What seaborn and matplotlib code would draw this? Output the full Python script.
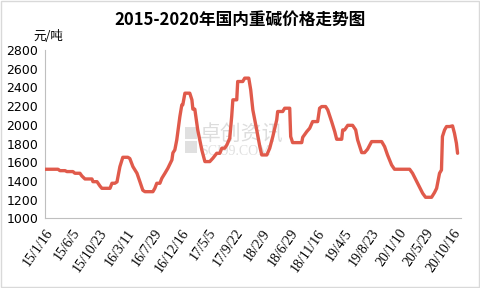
import matplotlib
matplotlib.use("Agg")
import matplotlib.pyplot as plt
import matplotlib.patches as mpatches
import seaborn as sns
import pandas as pd

dates = [
    "2015-01-16", "2015-03-24", "2015-04-03", "2015-04-29", "2015-05-09", "2015-06-09",
    "2015-06-19", "2015-07-15", "2015-07-25", "2015-08-10", "2015-09-15", "2015-09-20",
    "2015-10-11", "2015-10-26", "2015-11-05", "2015-12-17", "2015-12-27", "2016-01-11",
    "2016-01-22", "2016-02-06", "2016-02-21", "2016-03-18", "2016-03-28", "2016-04-13",
    "2016-05-04", "2016-05-19", "2016-06-03", "2016-06-14", "2016-07-25", "2016-08-04",
    "2016-08-14", "2016-08-30", "2016-09-09", "2016-09-25", "2016-10-10", "2016-10-31",
    "2016-11-05", "2016-11-15", "2016-11-25", "2016-12-11", "2016-12-21", "2016-12-26",
    "2017-01-06", "2017-01-31", "2017-02-11", "2017-02-16", "2017-02-26", "2017-03-13",
    "2017-04-03", "2017-04-19", "2017-05-14", "2017-05-30", "2017-06-19", "2017-07-05",
    "2017-07-15", "2017-07-30", "2017-08-10", "2017-08-25", "2017-09-04", "2017-09-10",
    "2017-09-30", "2017-10-05", "2017-10-31", "2017-11-10", "2017-12-01", "2017-12-11",
    "2017-12-22", "2018-01-11", "2018-01-27", "2018-02-06", "2018-03-04", "2018-03-19",
    "2018-04-04", "2018-04-24", "2018-04-29", "2018-05-25", "2018-06-04", "2018-06-30",
    "2018-07-05", "2018-07-15", "2018-08-31", "2018-09-05", "2018-09-26", "2018-10-11",
    "2018-10-26", "2018-11-21", "2018-12-01", "2018-12-12", "2019-01-01", "2019-01-12",
    "2019-02-01", "2019-02-17", "2019-02-27", "2019-03-25", "2019-03-30", "2019-04-09",
    "2019-04-25", "2019-05-20", "2019-06-05", "2019-06-15", "2019-07-06", "2019-07-21",
    "2019-08-05", "2019-08-26", "2019-10-17", "2019-11-01", "2019-11-16", "2019-12-07",
    "2019-12-22", "2020-03-09", "2020-03-24", "2020-04-19", "2020-05-15", "2020-05-30",
    "2020-06-30", "2020-07-15", "2020-07-26", "2020-08-10", "2020-08-20", "2020-08-25",
    "2020-09-05", "2020-09-15", "2020-10-01", "2020-10-16", "2020-10-26", "2020-11-05",
    "2020-11-11",
]
prices = [
    1525, 1525, 1510, 1510, 1500, 1500,
    1482, 1482, 1453, 1421, 1421, 1392,
    1392, 1346, 1321, 1321, 1375, 1375,
    1390, 1553, 1653, 1653, 1640, 1553,
    1482, 1392, 1300, 1285, 1285, 1321,
    1375, 1375, 1428, 1482, 1535, 1625,
    1700, 1732, 1839, 2089, 2214, 2214,
    2339, 2339, 2268, 2168, 2168, 1946,
    1732, 1607, 1607, 1643, 1696, 1696,
    1750, 1750, 1785, 1857, 2089, 2268,
    2268, 2464, 2464, 2500, 2500, 2375,
    2160, 1946, 1767, 1678, 1678, 1750,
    1875, 2053, 2143, 2143, 2178, 2178,
    1875, 1810, 1810, 1867, 1928, 1964,
    2035, 2035, 2178, 2196, 2196, 2160,
    2035, 1928, 1846, 1846, 1946, 1946,
    1995, 1995, 1946, 1839, 1703, 1703,
    1739, 1821, 1821, 1767, 1678, 1571,
    1525, 1525, 1482, 1375, 1268, 1225,
    1225, 1275, 1321, 1482, 1517, 1875,
    1946, 1982, 1982, 1989, 1910, 1803,
    1696,
]
tick_labels = ["15/1/16", "15/6/5", "15/10/23", "16/3/11", "16/7/29", "16/12/16",
               "17/5/5", "17/9/22", "18/2/9", "18/6/29", "18/11/16", "19/4/5",
               "19/8/23", "20/1/10", "20/5/29", "20/10/16"]
y_ticks = [1000, 1200, 1400, 1600, 1800, 2000, 2200, 2400, 2600, 2800]
title = "2015-2020年国内重碱价格走势图"
unit = "元/吨"
x_range = ["2015-01-16", "2020-11-27"]

df = pd.DataFrame({"date": pd.to_datetime(dates), "price": prices})
tick_pos = pd.to_datetime(tick_labels, format="%y/%m/%d")

sns.set_theme(style="white")
plt.rcParams["font.family"] = ["Noto Sans CJK SC", "DejaVu Sans"]

fig = plt.figure(figsize=(4.8, 2.88), dpi=100)
fig.patch.set_facecolor("white")
fig.patches.append(mpatches.Rectangle((0.002, 0.003), 0.995, 0.993, transform=fig.transFigure,
                                      fill=False, edgecolor="#d9d9d9", linewidth=1.0))
ax = fig.add_axes([0.09375, 0.242, 0.866, 0.584])

# watermark
ax.add_patch(mpatches.Rectangle((0.338, 0.47), 0.028, 0.07, transform=ax.transAxes,
                                color="#e0e0e0", zorder=0, linewidth=0))
ax.add_patch(mpatches.Rectangle((0.338, 0.39), 0.028, 0.07, transform=ax.transAxes,
                                color="#e0e0e0", zorder=0, linewidth=0))
ax.text(0.372, 0.495, "卓创资讯", transform=ax.transAxes, fontsize=15, color="#dddddd",
        va="center", ha="left", zorder=0)
ax.text(0.372, 0.395, "SCI99.COM", transform=ax.transAxes, fontsize=10, color="#e0e0e0",
        va="center", ha="left", zorder=0, family=["Liberation Serif"])

sns.lineplot(data=df, x="date", y="price", ax=ax, color="#e05a4b", linewidth=2.4, zorder=3)

ax.set_xlim(pd.to_datetime(x_range[0]), pd.to_datetime(x_range[1]))
ax.set_ylim(y_ticks[0], y_ticks[-1])
ax.set_yticks(y_ticks)
ax.set_yticklabels([str(v) for v in y_ticks], fontsize=9, family=["DejaVu Sans"])
ax.set_xticks(tick_pos)
ax.set_xticklabels(tick_labels, rotation=55, ha="right", rotation_mode="anchor",
                   fontsize=10, family=["Liberation Serif"])
ax.set_xlabel("")
ax.set_ylabel("")
for s in ["top", "right"]:
    ax.spines[s].set_visible(False)
for s in ["left", "bottom"]:
    ax.spines[s].set_color("#bfbfbf")
    ax.spines[s].set_linewidth(0.8)
ax.tick_params(axis="both", which="major", direction="out", length=4, width=0.8,
               color="#bfbfbf", labelcolor="black", pad=2)
ax.tick_params(axis="y", pad=1)
ax.grid(False)

fig.text(0.5, 0.93, title, ha="center", va="center", fontsize=12, fontweight="bold",
         color="black")
fig.text(0.07, 0.875, unit, ha="left", va="center", fontsize=9, color="black")

fig.savefig("out.png", dpi=100)
